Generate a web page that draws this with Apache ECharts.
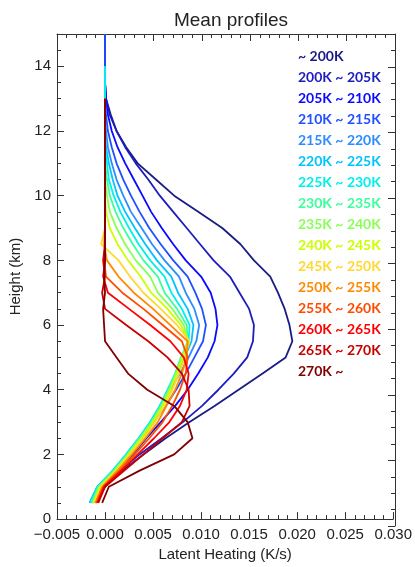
<!DOCTYPE html>
<html>
<head>
<meta charset="utf-8">
<script src="https://cdn.jsdelivr.net/npm/echarts@6/dist/echarts.min.js"></script>
<style>
  html, body { margin: 0; padding: 0; background: #fff; }
  #chart { width: 415px; height: 567px; }
</style>
</head>
<body>
<div id="chart"></div>
<script>
// heights (km), one value per row of each profile
var heights = [0.5, 1.0, 1.5, 2.0, 2.5, 3.0, 3.5, 4.0, 4.5, 5.0, 5.5, 6.0, 6.5, 7.0, 7.5,
  8.0, 8.5, 9.0, 9.5, 10.0, 10.5, 11.0, 11.5, 12.0, 12.5, 13.0, 13.5, 14.0, 14.5, 15.0];

var names = ['~ 200K', '200K ~ 205K', '205K ~ 210K', '210K ~ 215K', '215K ~ 220K', '220K ~ 225K',
  '225K ~ 230K', '230K ~ 235K', '235K ~ 240K', '240K ~ 245K', '245K ~ 250K', '250K ~ 255K',
  '255K ~ 260K', '260K ~ 265K', '265K ~ 270K', '270K ~'];

var colors = ['#1b1b86', '#1d1dbf', '#0a0aff', '#2050ff', '#2d8cff', '#00c4ff', '#00f0ea', '#3cff9c',
  '#88ff55', '#ccff00', '#ffd830', '#ff8a00', '#ff4c00', '#ff0000', '#c80000', '#800000'];

// latent heating (K/s) from 0.5 km upward
var lh200 = [-0.0010, 0.0000, 0.0018, 0.0040, 0.0063, 0.0088, 0.0114, 0.0139, 0.0164, 0.0188, 0.0195, 0.0192, 0.0187, 0.0180, 0.0172,
  0.0155, 0.0141, 0.0122, 0.0097, 0.0072, 0.0053, 0.0034, 0.0022, 0.0012, 0.0006, 0.0001, 0, 0, 0, 0];
var lh205 = [-0.0012, -0.0003, 0.0016, 0.0036, 0.0059, 0.0081, 0.0101, 0.0118, 0.0134, 0.0148, 0.0154, 0.0155, 0.0150, 0.0140, 0.0130,
  0.0113, 0.0099, 0.0085, 0.0071, 0.0057, 0.0045, 0.0032, 0.0021, 0.0012, 0.0005, 0.0001, 0, 0, 0, 0];
var lh210 = [-0.0014, -0.0006, 0.0012, 0.0029, 0.0043, 0.0058, 0.0073, 0.0086, 0.0097, 0.0107, 0.0114, 0.0117, 0.0115, 0.0110, 0.0100,
  0.0084, 0.0071, 0.0059, 0.0048, 0.0039, 0.0030, 0.0021, 0.0013, 0.0007, 0.0003, 0.0001, 0, 0, 0, 0];
var lh215 = [-0.0015, -0.0007, 0.0010, 0.0025, 0.0038, 0.0051, 0.0063, 0.0074, 0.0084, 0.0093, 0.0102, 0.0105, 0.0101, 0.0094, 0.0086,
  0.0071, 0.0058, 0.0046, 0.0036, 0.0027, 0.0019, 0.0012, 0.0007, 0.0003, 0.0001, 0, 0, 0, 0, 0];
var lh220 = [-0.0016, -0.0008, 0.0009, 0.0023, 0.0036, 0.0048, 0.0058, 0.0068, 0.0078, 0.0087, 0.0095, 0.0098, 0.0093, 0.0084, 0.0077,
  0.0062, 0.0049, 0.0038, 0.0027, 0.0019, 0.0012, 0.0007, 0.0003, 0.0001, 0, 0, 0, 0];
var lh225 = [-0.0016, -0.0008, 0.0008, 0.0022, 0.0035, 0.0047, 0.0057, 0.0066, 0.0075, 0.0083, 0.0090, 0.0092, 0.0086, 0.0076, 0.0069,
  0.0054, 0.0042, 0.0031, 0.0021, 0.0013, 0.0008, 0.0004, 0.0001, 0, 0, 0, 0, 0];
var lh230 = [-0.0015, -0.0008, 0.0008, 0.0022, 0.0035, 0.0047, 0.0057, 0.0065, 0.0073, 0.0080, 0.0087, 0.0088, 0.0080, 0.0069, 0.0062,
  0.0047, 0.0035, 0.0025, 0.0016, 0.0009, 0.0004, 0.0002, 0, 0, 0, 0, 0, 0];
var lh235 = [-0.0014, -0.0007, 0.0009, 0.0023, 0.0036, 0.0048, 0.0058, 0.0066, 0.0073, 0.0079, 0.0086, 0.0085, 0.0075, 0.0062, 0.0055,
  0.0040, 0.0029, 0.0019, 0.0011, 0.0005, 0.0002, 0, 0, 0, 0, 0];
var lh240 = [-0.0013, -0.0006, 0.0010, 0.0024, 0.0037, 0.0049, 0.0059, 0.0067, 0.0074, 0.0080, 0.0086, 0.0082, 0.0070, 0.0055, 0.0047,
  0.0032, 0.0021, 0.0012, 0.0005, 0.0002, 0, 0, 0, 0, 0, 0];
var lh245 = [-0.0012, -0.0005, 0.0011, 0.0025, 0.0038, 0.0050, 0.0060, 0.0068, 0.0075, 0.0081, 0.0087, 0.0079, 0.0065, 0.0048, 0.0037,
  0.0024, 0.0013, 0.0005, 0.0001, 0, 0, 0, 0, 0, 0, 0];
var lh250 = [-0.0011, -0.0004, 0.0012, 0.0026, 0.0040, 0.0052, 0.0062, 0.0070, 0.0077, 0.0083, 0.0088, 0.0075, 0.0058, 0.0040, 0.0026,
  0.0014, -0.0004, 0, 0, 0, 0, 0, 0, 0, 0, 0];
var lh255 = [-0.0010, -0.0003, 0.0013, 0.0028, 0.0042, 0.0055, 0.0064, 0.0073, 0.0080, 0.0085, 0.0086, 0.0068, 0.0050, 0.0030, 0.0014,
  0.0002, -0.0001, 0, 0, 0, 0, 0, 0, 0, 0, 0];
var lh260 = [-0.0009, -0.0002, 0.0015, 0.0031, 0.0046, 0.0060, 0.0070, 0.0078, 0.0084, 0.0086, 0.0080, 0.0060, 0.0040, 0.0018, 0.0001,
  -0.0001, 0, 0, 0, 0, 0, 0, 0, 0, 0, 0];
var lh265 = [-0.0008, -0.0001, 0.0017, 0.0034, 0.0051, 0.0067, 0.0078, 0.0085, 0.0087, 0.0082, 0.0068, 0.0047, 0.0025, 0.0003, -0.0002,
  0, 0, 0, 0, 0, 0, 0, 0, 0, 0, 0];
var lh270 = [-0.0007, 0.0000, 0.0020, 0.0040, 0.0060, 0.0080, 0.0088, 0.0087, 0.0080, 0.0065, 0.0045, 0.0022, 0.0000, -0.0003, 0,
  -0.0002, 0, 0, 0, 0, 0, 0, 0, 0, 0, 0];
var lh275 = [-0.0003, 0.0004, 0.0036, 0.0072, 0.0091, 0.0086, 0.0072, 0.0044, 0.0024, 0.0012, 0.0000, -0.0001, -0.0002, 0.0000, -0.0001,
  0, 0, 0, 0, 0, 0, 0, 0, 0, 0, 0];

var profiles = [lh200, lh205, lh210, lh215, lh220, lh225, lh230, lh235, lh240, lh245, lh250, lh255, lh260, lh265, lh270, lh275];

var xTicks = { min: -0.005, max: 0.030, interval: 0.005 };
var yTicks = { min: 0, max: 15, interval: 2 };

var chart = echarts.init(document.getElementById('chart'));

var axisFont = { fontFamily: 'Liberation Sans', fontSize: 15, color: '#222' };
var box = { left: 57, right: 20, top: 34, bottom: 41 };

function fmtX(v) {
  var s = Math.abs(v).toFixed(3);
  return (v < -1e-9 ? '\u2212' : '') + s;
}

function xAxis(pos, main, grid) {
  return {
    type: 'value', gridIndex: grid, position: pos, min: xTicks.min, max: xTicks.max, interval: xTicks.interval,
    axisLine: { show: true, onZero: false, lineStyle: { color: '#333', width: 1 } },
    axisTick: { show: true, inside: true, length: 7, lineStyle: { color: '#333', width: 1 } },
    minorTick: { show: true, splitNumber: 5, length: 4, lineStyle: { color: '#333', width: 1 } },
    splitLine: { show: false },
    axisLabel: main ? Object.assign({ show: true, margin: 8, formatter: fmtX }, axisFont) : { show: false },
    name: main ? 'Latent Heating (K/s)' : '',
    nameLocation: 'middle', nameGap: 25,
    nameTextStyle: axisFont
  };
}

function yAxis(pos, main, grid) {
  return {
    type: 'value', gridIndex: grid, position: pos, min: yTicks.min, max: yTicks.max, interval: yTicks.interval,
    axisLine: { show: true, onZero: false, lineStyle: { color: '#333', width: 1 } },
    axisTick: { show: true, inside: true, length: 7, lineStyle: { color: '#333', width: 1 } },
    minorTick: { show: true, splitNumber: 4, length: 4, lineStyle: { color: '#333', width: 1 } },
    splitLine: { show: false },
    axisLabel: main ? Object.assign({ show: true, margin: 6, showMaxLabel: false }, axisFont) : { show: false },
    name: main ? 'Height (km)' : '',
    nameLocation: 'middle', nameGap: 32,
    nameTextStyle: axisFont
  };
}

var series = profiles.map(function (vals, k) {
  return {
    name: names[k],
    type: 'line',
    xAxisIndex: 0, yAxisIndex: 0,
    symbol: 'none',
    smooth: false,
    color: colors[k],
    lineStyle: { color: colors[k], width: 1.8 },
    emphasis: { disabled: true },
    data: vals.map(function (v, i) { return [v, heights[i]]; })
  };
});

// a second grid on the same box carries the top and right frame axes;
// it gets an invisible copy of one profile so its axes have a scale
series.unshift({
  name: 'frame',
  type: 'line',
  xAxisIndex: 1, yAxisIndex: 1,
  symbol: 'none',
  silent: true,
  lineStyle: { opacity: 0 },
  emphasis: { disabled: true },
  data: lh200.map(function (v, i) { return [v, heights[i]]; })
});

var option = {
  animation: false,
  backgroundColor: '#fff',
  title: {
    text: 'Mean profiles', left: 226, top: 6, textAlign: 'center',
    textStyle: { fontFamily: 'Liberation Sans', fontSize: 19, fontWeight: 'normal', color: '#222' }
  },
  grid: [box, Object.assign({}, box)],
  legend: {
    orient: 'vertical', left: 288, top: 44,
    icon: 'none', itemWidth: 0, itemHeight: 14, itemGap: 7,
    selectedMode: false,
    data: names.map(function (n, k) {
      return { name: n, textStyle: { color: colors[k] } };
    }),
    textStyle: { fontFamily: 'Lato', fontWeight: 'bold', fontSize: 14 }
  },
  xAxis: [xAxis('bottom', true, 0), xAxis('top', false, 1)],
  yAxis: [yAxis('left', true, 0), yAxis('right', false, 1)],
  series: series
};

chart.setOption(option);
</script>
</body>
</html>
